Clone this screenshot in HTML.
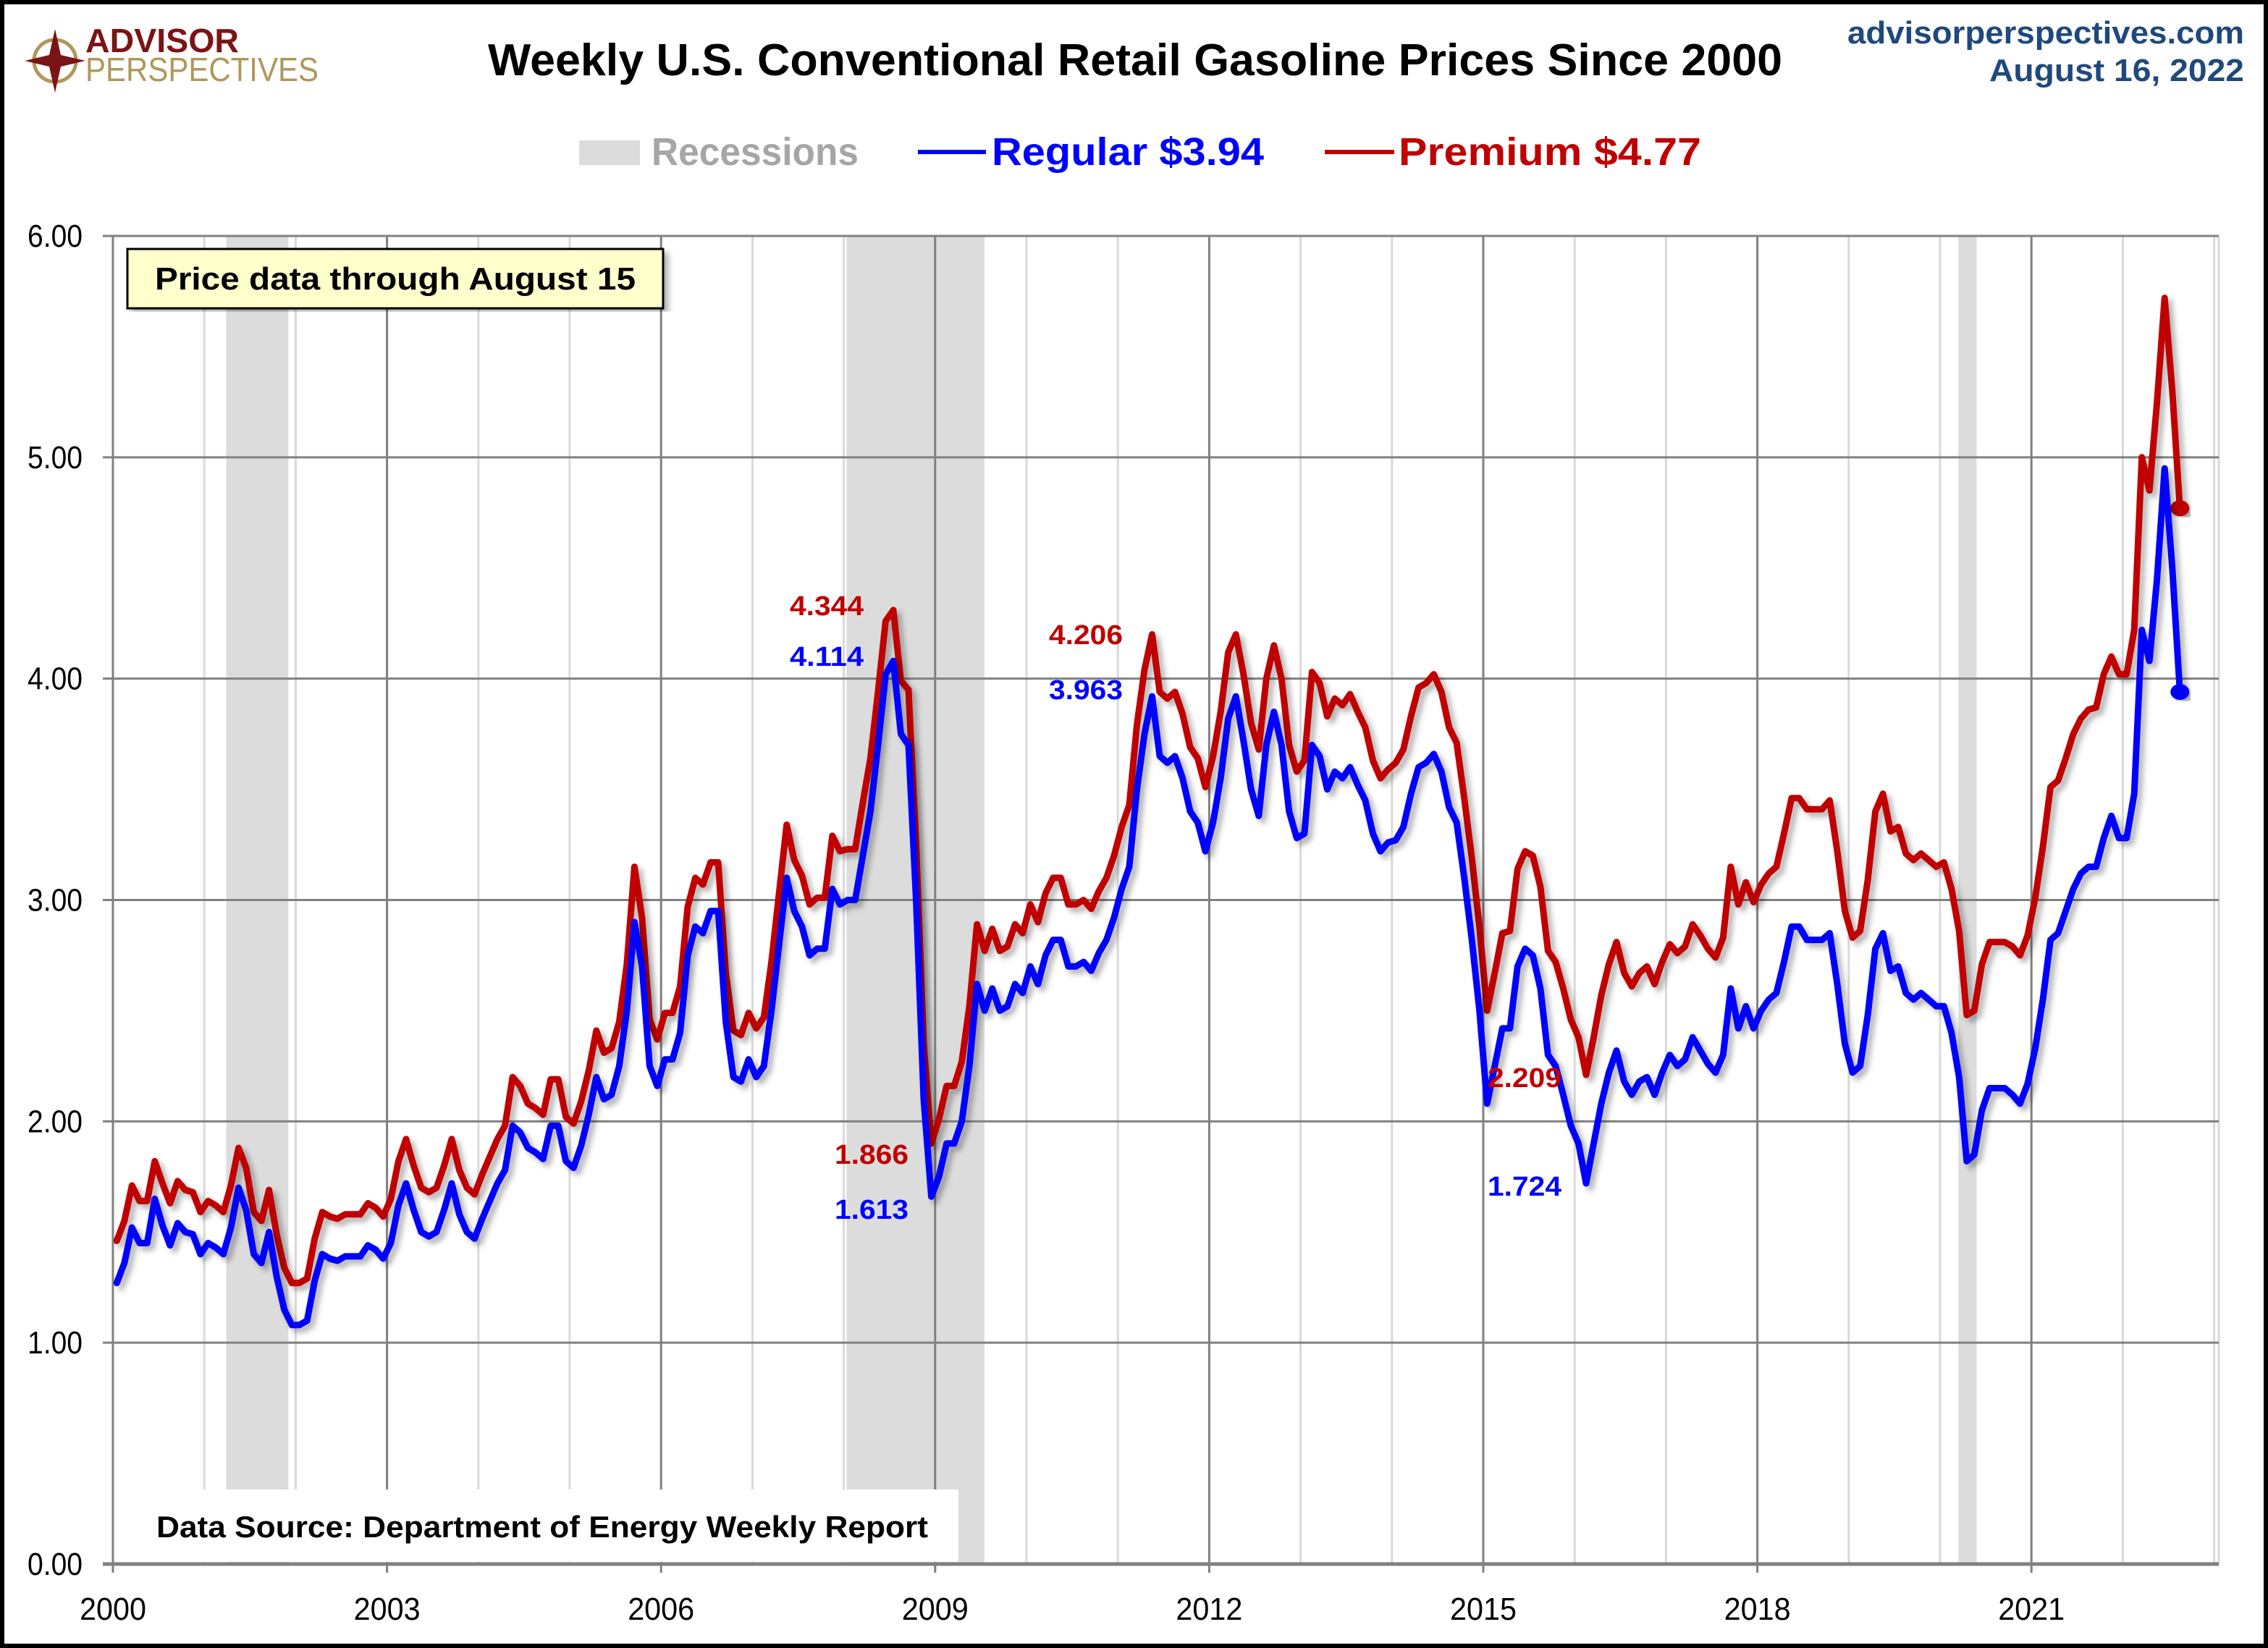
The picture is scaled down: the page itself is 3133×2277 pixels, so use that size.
<!DOCTYPE html>
<html><head><meta charset="utf-8"><style>
html,body{margin:0;padding:0;background:#fff}
svg{display:block}
text{font-family:"Liberation Sans",sans-serif}
</style></head><body>
<svg id="chart" width="3133" height="2277" viewBox="0 0 3133 2277" xmlns="http://www.w3.org/2000/svg">
<defs>
<filter id="sh" x="-5%" y="-5%" width="110%" height="110%"><feDropShadow dx="6" dy="6" stdDeviation="4" flood-color="#000" flood-opacity="0.3"/></filter>
</defs>
<rect x="3" y="3" width="3127" height="2271" fill="#fff" stroke="#000" stroke-width="6"/>
<g>
<circle cx="76" cy="84" r="29" fill="none" stroke="#b0975a" stroke-width="5"/>
<polygon points="76,40 84,76 118,84 84,92 76,128 68,92 34,84 68,76" fill="#7a1416"/>
<text x="118" y="72" font-size="46" font-weight="bold" fill="#7a1416" textLength="212" lengthAdjust="spacingAndGlyphs">ADVISOR</text>
<text x="118" y="112" font-size="46" fill="#b0975a" textLength="322" lengthAdjust="spacingAndGlyphs">PERSPECTIVES</text>
</g>
<text x="1568" y="104" text-anchor="middle" font-size="62" font-weight="bold" fill="#000" textLength="1788" lengthAdjust="spacingAndGlyphs">Weekly U.S. Conventional Retail Gasoline Prices Since 2000</text>
<text x="3100" y="60" text-anchor="end" font-size="44" font-weight="bold" fill="#1f497d" textLength="548" lengthAdjust="spacingAndGlyphs">advisorperspectives.com</text>
<text x="3100" y="112" text-anchor="end" font-size="44" font-weight="bold" fill="#1f497d" textLength="352" lengthAdjust="spacingAndGlyphs">August 16, 2022</text>
<g>
<rect x="800" y="194" width="84" height="34" fill="#dcdcdc"/>
<text x="900" y="228" font-size="54" font-weight="bold" fill="#a6a6a6" textLength="286" lengthAdjust="spacingAndGlyphs">Recessions</text>
<line x1="1268" y1="210" x2="1362" y2="210" stroke="#0000ff" stroke-width="6"/>
<text x="1370" y="228" font-size="54" font-weight="bold" fill="#0000ff" textLength="376" lengthAdjust="spacingAndGlyphs">Regular  $3.94</text>
<line x1="1830" y1="210" x2="1926" y2="210" stroke="#c00000" stroke-width="6"/>
<text x="1932" y="228" font-size="54" font-weight="bold" fill="#c00000" textLength="418" lengthAdjust="spacingAndGlyphs">Premium  $4.77</text>
</g>
<g id="plot"></g>
</svg>
<script>
const startYear = 2000;
const yTicks = [0,1,2,3,4,5,6];
const yTickLabels = ["0.00","1.00","2.00","3.00","4.00","5.00","6.00"];
const xTickYears = [2000,2003,2006,2009,2012,2015,2018,2021];
const recessionStarts = [2001.24, 2008.03, 2020.2];
const recessionEnds = [2001.92, 2009.54, 2020.4];
const regular = [
1.27,1.36,1.52,1.45,1.45,1.65,1.53,1.44,1.54,1.50,1.49,1.40,
1.45,1.43,1.40,1.52,1.70,1.60,1.40,1.36,1.50,1.30,1.15,1.08,
1.08,1.10,1.28,1.40,1.38,1.37,1.39,1.39,1.39,1.44,1.42,1.38,
1.45,1.62,1.72,1.60,1.50,1.48,1.50,1.60,1.72,1.58,1.50,1.47,
1.56,1.64,1.72,1.78,1.98,1.95,1.88,1.86,1.83,1.98,1.98,1.82,
1.79,1.89,2.03,2.20,2.10,2.12,2.25,2.50,2.90,2.70,2.25,2.16,
2.28,2.28,2.40,2.75,2.88,2.85,2.95,2.95,2.45,2.20,2.18,2.28,
2.20,2.25,2.50,2.80,3.10,2.95,2.88,2.75,2.78,2.78,3.05,2.98,
3.00,3.00,3.20,3.40,3.70,4.02,4.08,3.75,3.70,3.00,2.10,1.66,
1.75,1.90,1.90,2.00,2.25,2.62,2.50,2.60,2.50,2.52,2.62,2.58,
2.70,2.62,2.75,2.82,2.82,2.70,2.70,2.72,2.68,2.76,2.82,2.92,
3.05,3.15,3.50,3.75,3.92,3.65,3.62,3.65,3.55,3.40,3.35,3.22,
3.35,3.55,3.82,3.92,3.72,3.50,3.38,3.70,3.85,3.70,3.40,3.28,
3.30,3.70,3.65,3.50,3.58,3.55,3.60,3.52,3.45,3.30,3.22,3.26,
3.27,3.33,3.48,3.60,3.62,3.66,3.58,3.42,3.35,3.10,2.82,2.50,
2.08,2.25,2.42,2.42,2.70,2.78,2.75,2.60,2.30,2.25,2.12,1.98,
1.90,1.72,1.90,2.08,2.22,2.32,2.18,2.12,2.18,2.20,2.12,2.22,
2.30,2.25,2.28,2.38,2.32,2.26,2.22,2.30,2.60,2.42,2.52,2.42,
2.50,2.55,2.58,2.72,2.88,2.88,2.82,2.82,2.82,2.85,2.62,2.35,
2.22,2.25,2.48,2.78,2.85,2.68,2.70,2.58,2.55,2.58,2.55,2.52,
2.52,2.40,2.20,1.82,1.85,2.05,2.15,2.15,2.15,2.12,2.08,2.17,
2.33,2.55,2.82,2.85,2.95,3.05,3.12,3.15,3.15,3.28,3.38,3.28,
3.28,3.48,4.22,4.08,4.45,4.95,4.50,3.94];
const premium = [
1.46,1.55,1.71,1.64,1.64,1.82,1.72,1.63,1.73,1.69,1.68,1.59,
1.64,1.62,1.59,1.71,1.88,1.79,1.59,1.55,1.69,1.49,1.34,1.27,
1.27,1.29,1.47,1.59,1.57,1.56,1.58,1.58,1.58,1.63,1.61,1.57,
1.65,1.82,1.92,1.80,1.70,1.68,1.70,1.80,1.92,1.78,1.70,1.67,
1.76,1.84,1.92,1.98,2.20,2.16,2.08,2.06,2.03,2.19,2.19,2.02,
1.99,2.09,2.23,2.41,2.31,2.33,2.45,2.71,3.15,2.92,2.46,2.37,
2.49,2.49,2.61,2.97,3.10,3.07,3.17,3.17,2.67,2.41,2.39,2.49,
2.42,2.47,2.72,3.03,3.34,3.18,3.11,2.98,3.01,3.01,3.29,3.22,
3.23,3.23,3.44,3.64,3.94,4.26,4.31,3.99,3.95,3.25,2.35,1.90,
2.01,2.16,2.16,2.27,2.52,2.89,2.77,2.87,2.77,2.79,2.89,2.85,
2.98,2.90,3.03,3.10,3.10,2.98,2.98,3.00,2.96,3.04,3.10,3.20,
3.33,3.43,3.79,4.04,4.20,3.94,3.91,3.94,3.84,3.69,3.64,3.51,
3.65,3.85,4.12,4.20,4.02,3.80,3.68,4.00,4.15,4.00,3.70,3.58,
3.63,4.03,3.98,3.83,3.91,3.88,3.93,3.85,3.78,3.63,3.55,3.59,
3.62,3.68,3.83,3.96,3.98,4.02,3.94,3.78,3.71,3.46,3.19,2.88,
2.50,2.67,2.85,2.86,3.14,3.22,3.20,3.06,2.77,2.72,2.60,2.46,
2.38,2.21,2.38,2.57,2.71,2.81,2.67,2.61,2.67,2.70,2.62,2.72,
2.80,2.76,2.79,2.89,2.84,2.78,2.74,2.83,3.15,2.98,3.08,2.99,
3.07,3.12,3.15,3.30,3.46,3.46,3.41,3.41,3.41,3.45,3.22,2.95,
2.83,2.86,3.09,3.40,3.48,3.31,3.33,3.21,3.18,3.21,3.18,3.15,
3.17,3.05,2.86,2.48,2.50,2.71,2.81,2.81,2.81,2.79,2.75,2.84,
3.01,3.24,3.51,3.54,3.64,3.75,3.82,3.86,3.87,4.02,4.10,4.02,
4.02,4.22,5.00,4.85,5.25,5.72,5.30,4.77];
const annotationValues = ["4.344","4.114","4.206","3.963","1.866","1.613","2.209","1.724"];

const L=156,R=3065,T=326,B=2161,pxPerYear=126.2,yMax=6;
const xS=t=>L+(t-startYear)*pxPerYear;
const yS=v=>B-(v/yMax)*(B-T);
const tAt=i=>startYear+(i+0.5)/12;
const NS="http://www.w3.org/2000/svg";
const plot=document.getElementById('plot');
function mk(tag,attrs,parent){const e=document.createElementNS(NS,tag);for(const k in attrs)e.setAttribute(k,attrs[k]);(parent||plot).appendChild(e);return e;}

for(let i=0;i<recessionStarts.length;i++){
  const r=mk('rect',{x:xS(recessionStarts[i]),y:T,width:xS(recessionEnds[i])-xS(recessionStarts[i]),height:B-T,fill:'#dcdcdc'});
  
  
}
for(let yr=2000;yr<=2023;yr++){
  const major=(yr-2000)%3===0;
  const g=mk('line',{x1:xS(yr),x2:xS(yr),y1:T,y2:major?B+12:B,stroke:major?'#808080':'#d9d9d9','stroke-width':3});
  
  
}
const rb=mk('line',{x1:R,x2:R,y1:T,y2:B,stroke:'#d9d9d9','stroke-width':3});


yTicks.forEach((v,i)=>{
  const g=mk('line',{x1:L-14,x2:R,y1:yS(v),y2:yS(v),stroke:'#808080','stroke-width':v===0?5:3});
  
  
  const t=mk('text',{x:114,y:yS(v)+15,'text-anchor':'end','font-size':44,fill:'#000',textLength:76,lengthAdjust:'spacingAndGlyphs'});
  t.textContent=yTickLabels[i];
  
  
});
const yax=mk('line',{x1:L,x2:L,y1:T,y2:B+12,stroke:'#808080','stroke-width':3});


xTickYears.forEach(yr=>{
  const t=mk('text',{x:xS(yr),y:2238,'text-anchor':'middle','font-size':44,fill:'#000',textLength:92,lengthAdjust:'spacingAndGlyphs'});
  t.textContent=String(yr);
  
  
});
function series(vals,color,name){
  const d=vals.map((v,i)=>(i?'L':'M')+xS(tAt(i)).toFixed(1)+','+yS(v).toFixed(1)).join(' ');
  const p=mk('path',{d:d,fill:'none',stroke:color,'stroke-width':9,'stroke-linejoin':'round','stroke-linecap':'round',filter:'url(#sh)'});
  
  
  const n=vals.length-1;
  const c=mk('ellipse',{cx:xS(tAt(n)),cy:yS(vals[n]),rx:13,ry:11,fill:color,filter:'url(#sh)'});
  
  
}
series(premium,'#c00000','premium');
series(regular,'#0000ff','regular');
const annX=[1142,1142,1500,1500,1204,1204,2106,2106];
const annY=[850,920,890,966,1608,1684,1502,1652];
annotationValues.forEach((s,i)=>{
  const t=mk('text',{x:annX[i],y:annY[i],'text-anchor':'middle','font-size':38,'font-weight':'bold',fill:i%2===0?'#c00000':'#0000ff',textLength:102,lengthAdjust:'spacingAndGlyphs'});
  t.textContent=s;
  
  
});
const nb=mk('rect',{x:176,y:344,width:740,height:82,fill:'#ffffcc',stroke:'#000','stroke-width':3,filter:'url(#sh)'});


const nt=mk('text',{x:546,y:400,'text-anchor':'middle','font-size':44,'font-weight':'bold',fill:'#000',textLength:664,lengthAdjust:'spacingAndGlyphs'});
nt.textContent='Price data through August 15';


const sb=mk('rect',{x:190,y:2058,width:1134,height:100,fill:'#fff'});


const st=mk('text',{x:216,y:2124,'font-size':42,'font-weight':'bold',fill:'#000',textLength:1066,lengthAdjust:'spacingAndGlyphs'});
st.textContent='Data Source: Department of Energy Weekly Report';


</script>
</body></html>
